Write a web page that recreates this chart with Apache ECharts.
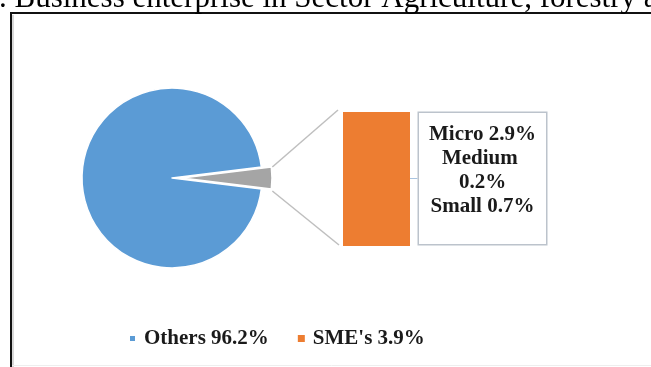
<!DOCTYPE html>
<html>
<head>
<meta charset="utf-8">
<script src="https://cdn.jsdelivr.net/npm/echarts@6/dist/echarts.min.js"></script>
<style>
  html, body { margin: 0; padding: 0; background: #fff; }
  #chart { width: 651px; height: 367px; }
</style>
</head>
<body>
<div id="chart"></div>
<script>
// Shares of business enterprises (%)
const pieNames = ['Others', "SME's"];
const pieValues = [96.2, 3.9];
// Breakdown of the SME share shown in the bar
const smeNames = ['Micro', 'Medium', 'Small'];
const smeValues = [2.9, 0.2, 0.7];
const headingText = '. Business enterprise in Sector Agriculture, forestry and fishing';

const BLUE = '#5B9BD5', GREY = '#A5A5A5', ORANGE = '#ED7D31';
const SERIF = '"Times New Roman", "Liberation Serif", serif';

const pieCenter = [172, 178];
const pieRadius = 90;
const pieOffset = 10;
const total = pieValues[0] + pieValues[1];
const smeAngle = pieValues[1] / total * 360;

const chart = echarts.init(document.getElementById('chart'), null, { renderer: 'canvas' });

const option = {
  animation: false,
  backgroundColor: '#fff',
  title: {
    text: headingText,
    left: -1,
    top: -17,
    padding: 0,
    textStyle: { fontFamily: SERIF, fontSize: 31, fontWeight: 'normal', color: '#000' }
  },
  legend: {
    left: 128,
    top: 328,
    padding: 0,
    icon: 'rect',
    itemWidth: 7,
    itemHeight: 7,
    itemGap: 29,
    selectedMode: false,
    data: [pieNames[0], pieNames[1]],
    formatter: function (name) {
      const i = pieNames.indexOf(name);
      return name + ' ' + pieValues[i].toFixed(1) + '%';
    },
    textStyle: { fontFamily: SERIF, fontSize: 21, fontWeight: 'bold', color: '#1a1a1a', padding: [0, 0, 0, 3] }
  },
  grid: { left: 343, top: 112, width: 67, height: 134 },
  xAxis: { type: 'category', data: [pieNames[1]], show: false },
  yAxis: { type: 'value', min: 0, max: pieValues[1], show: false },
  series: [
    {
      type: 'pie',
      center: pieCenter,
      radius: pieRadius,
      startAngle: smeAngle / 2,
      clockwise: true,
      selectedMode: 'single',
      selectedOffset: pieOffset,
      label: { show: false },
      labelLine: { show: false },
      emphasis: { disabled: true },
      itemStyle: { borderColor: '#fff', borderWidth: 1.5 },
      data: [
        { name: pieNames[1] + ' share', value: pieValues[1], selected: true, itemStyle: { color: GREY } },
        { name: pieNames[0], value: pieValues[0], itemStyle: { color: BLUE } }
      ]
    },
    {
      type: 'bar',
      name: pieNames[1],
      barWidth: '100%',
      itemStyle: { color: ORANGE },
      emphasis: { disabled: true },
      data: [pieValues[1]],
      label: {
        show: true,
        position: [139.5, 1],
        align: 'center',
        verticalAlign: 'top',
        width: 113,
        overflow: 'break',
        lineHeight: 24,
        padding: [10, 7, 25, 7],
        backgroundColor: '#fff',
        borderColor: '#BCC3CC',
        borderWidth: 1.5,
        fontFamily: SERIF,
        fontSize: 21,
        fontWeight: 'bold',
        color: '#1a1a1a',
        formatter: function () {
          return smeNames.map(function (n, i) { return n + ' ' + smeValues[i].toFixed(1) + '%'; }).join('\n');
        }
      },
      labelLine: { show: true, lineStyle: { color: '#A9C4E0', width: 1 } }
    }
  ]
};
chart.setOption(option);

// Frame and connector lines between the pulled-out slice and the bar
const barTop = chart.convertToPixel({ gridIndex: 0 }, [0, pieValues[1]]);
const barBottom = chart.convertToPixel({ gridIndex: 0 }, [0, 0]);
const barLeft = 343;
const half = smeAngle / 2 * Math.PI / 180;
const tipX = pieCenter[0] + pieOffset + pieRadius * Math.cos(half);
const tipTop = pieCenter[1] - pieRadius * Math.sin(half);
const tipBot = pieCenter[1] + pieRadius * Math.sin(half);
const connector = { stroke: '#BFBFBF', lineWidth: 1.5 };

chart.setOption({
  graphic: [
    { type: 'line', shape: { x1: 10, y1: 13, x2: 651, y2: 13 }, style: { stroke: '#111', lineWidth: 2 } },
    { type: 'line', shape: { x1: 11, y1: 12, x2: 11, y2: 367 }, style: { stroke: '#111', lineWidth: 2 } },
    { type: 'line', shape: { x1: 13, y1: 15, x2: 13, y2: 367 }, style: { stroke: '#D8D8D8', lineWidth: 2 } },
    { type: 'line', shape: { x1: 12, y1: 365.5, x2: 651, y2: 365.5 }, style: { stroke: '#EEEEEE', lineWidth: 1 } },
    { type: 'line', shape: { x1: tipX + 1, y1: tipTop, x2: barLeft - 5, y2: barTop[1] - 2 }, style: connector },
    { type: 'line', shape: { x1: tipX + 1, y1: tipBot + 2, x2: barLeft - 4, y2: barBottom[1] - 1 }, style: connector }
  ]
});
</script>
</body>
</html>
